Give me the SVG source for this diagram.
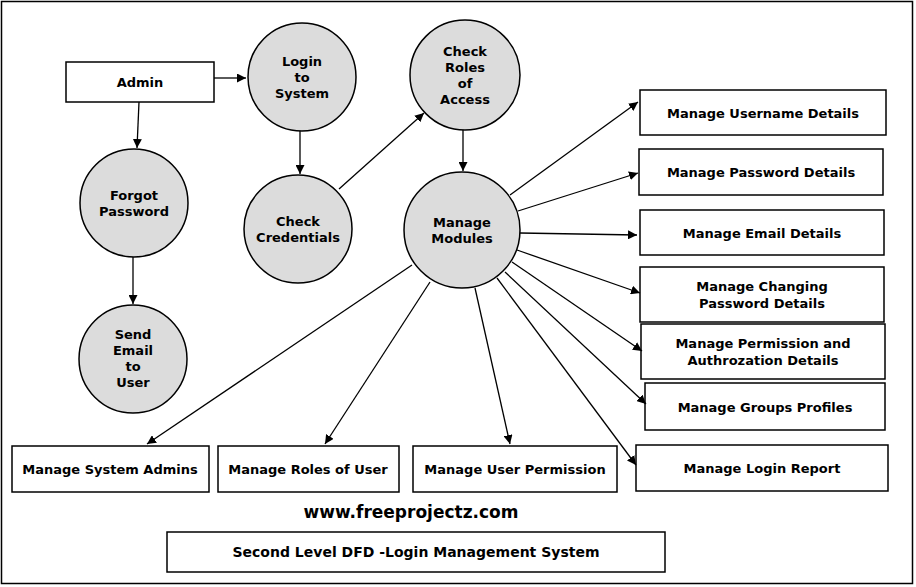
<svg xmlns="http://www.w3.org/2000/svg" width="916" height="587" viewBox="0 0 916 587">
<style>
.n{fill:#fff;stroke:#000;stroke-width:1.5}
.c{fill:#dcdcdc;stroke:#000;stroke-width:1.5}
text{font-family:"DejaVu Sans",sans-serif;font-weight:bold;font-size:13px;text-anchor:middle;fill:#000}
.e line{stroke:#000;stroke-width:1.3;marker-end:url(#a)}
</style>
<defs><marker id="a" viewBox="0 0 10 10" refX="10" refY="5" markerWidth="9" markerHeight="9" orient="auto" markerUnits="userSpaceOnUse"><path d="M0,0L10,5L0,10z" fill="#000"/></marker></defs>
<rect x="0" y="0" width="916" height="587" fill="#fff"/>
<rect x="1.5" y="1.5" width="911" height="582" fill="none" stroke="#000" stroke-width="1.5"/>
<g id="admin"><rect class="n" x="66" y="62" width="148" height="40"/><text x="140" y="87">Admin</text></g>
<g id="login"><circle class="c" cx="302" cy="77" r="54"/><text x="302" y="66">Login</text><text x="302" y="82">to</text><text x="302" y="98">System</text></g>
<g id="roles"><circle class="c" cx="465" cy="75" r="55"/><text x="465" y="56">Check</text><text x="465" y="72">Roles</text><text x="465" y="88">of</text><text x="465" y="104">Access</text></g>
<g id="forgot"><circle class="c" cx="134" cy="203" r="54"/><text x="134" y="200">Forgot</text><text x="134" y="216">Password</text></g>
<g id="cred"><circle class="c" cx="298" cy="229" r="54"/><text x="298" y="226">Check</text><text x="298" y="242">Credentials</text></g>
<g id="modules"><circle class="c" cx="462" cy="230" r="58"/><text x="462" y="227">Manage</text><text x="462" y="243">Modules</text></g>
<g id="email"><circle class="c" cx="133" cy="359" r="54"/><text x="133" y="339">Send</text><text x="133" y="355">Email</text><text x="133" y="371">to</text><text x="133" y="387">User</text></g>
<g id="r1"><rect class="n" x="640" y="90" width="246" height="45"/><text x="763" y="118">Manage Username Details</text></g>
<g id="r2"><rect class="n" x="639" y="149" width="244" height="46"/><text x="761" y="177">Manage Password Details</text></g>
<g id="r3"><rect class="n" x="640" y="210" width="244" height="45"/><text x="762" y="238">Manage Email Details</text></g>
<g id="r4"><rect class="n" x="640" y="267" width="244" height="55"/><text x="762" y="291">Manage Changing</text><text x="762" y="308">Password Details</text></g>
<g id="r5"><rect class="n" x="641" y="324" width="244" height="55"/><text x="763" y="348">Manage Permission and</text><text x="763" y="365">Authrozation Details</text></g>
<g id="r6"><rect class="n" x="645" y="383" width="240" height="47"/><text x="765" y="412">Manage Groups Profiles</text></g>
<g id="r7"><rect class="n" x="636" y="445" width="252" height="46"/><text x="762" y="473">Manage Login Report</text></g>
<g id="b1"><rect class="n" x="12" y="446" width="197" height="46"/><text x="110" y="474">Manage System Admins</text></g>
<g id="b2"><rect class="n" x="218" y="446" width="181" height="46"/><text x="308" y="474">Manage Roles of User</text></g>
<g id="b3"><rect class="n" x="413" y="446" width="204" height="46"/><text x="515" y="474">Manage User Permission</text></g>
<text x="411" y="518" style="font-size:17px">www.freeprojectz.com</text>
<g id="title"><rect class="n" x="167" y="532" width="498" height="40"/><text x="416" y="557" style="font-size:14px">Second Level DFD -Login Management System</text></g>
<g class="e">
<line x1="139" y1="102" x2="137" y2="148"/>
<line x1="214" y1="78" x2="246" y2="78"/>
<line x1="300" y1="131" x2="300" y2="174"/>
<line x1="339" y1="189" x2="424" y2="113"/>
<line x1="463" y1="130" x2="463" y2="171"/>
<line x1="133" y1="257" x2="133" y2="304"/>
<line x1="510" y1="195" x2="638" y2="102"/>
<line x1="518" y1="211" x2="638" y2="173"/>
<line x1="520" y1="233" x2="637" y2="235"/>
<line x1="517" y1="250" x2="640" y2="293"/>
<line x1="512" y1="262" x2="642" y2="351"/>
<line x1="505" y1="272" x2="646" y2="404"/>
<line x1="497" y1="278" x2="636" y2="465"/>
<line x1="412" y1="265" x2="147" y2="444"/>
<line x1="430" y1="282" x2="325" y2="444"/>
<line x1="475" y1="288" x2="510" y2="444"/>
</g>
</svg>
